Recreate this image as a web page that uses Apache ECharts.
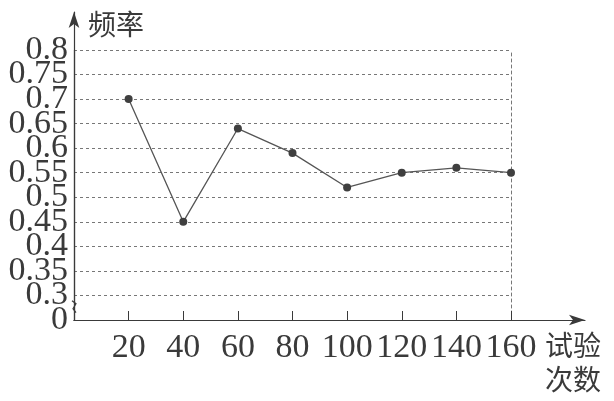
<!DOCTYPE html>
<html>
<head>
<meta charset="utf-8">
<script src="https://cdn.jsdelivr.net/npm/echarts@6/dist/echarts.min.js"></script>
<style>
  html, body { margin: 0; padding: 0; background: #fff; }
  #main { width: 614px; height: 401px; }
</style>
</head>
<body>
<div id="main"></div>
<script>
// 试验次数
const trials = [20, 40, 60, 80, 100, 120, 140, 160]
// 频率
const freqs = [0.7, 0.45, 0.64, 0.59, 0.52, 0.55, 0.56, 0.55]
// 纵轴刻度 (0.25 的位置显示为 0，表示断轴)
const yMin = 0.25
const yMax = 0.8
const yStep = 0.05

const serif = '"Liberation Serif", "DejaVu Serif", serif'
const cjk = '"Noto Sans CJK SC", sans-serif'
const ink = '#3a3a3a'
const gridGrey = '#777'

const yLabel = v => (v < yMin + 0.001 ? '0' : String(+v.toFixed(2)))
const yLabelStyle = {
  color: ink,
  fontFamily: serif,
  fontSize: 34,
  margin: 6,
  formatter: yLabel
}

const chart = echarts.init(document.getElementById('main'))

const option = {
  backgroundColor: '#fff',
  animation: false,
  grid: [
    // 数据区域
    { left: 74, right: 103, top: 50, bottom: 81 },
    // 带箭头的坐标轴
    { left: 74, right: 29, top: 12, bottom: 81 }
  ],
  xAxis: [
    {
      type: 'value',
      gridIndex: 0,
      min: 0,
      max: 160,
      interval: 20,
      axisLine: { show: true, lineStyle: { color: ink, width: 1.2 } },
      axisTick: { show: true, inside: true, length: 9, lineStyle: { color: ink } },
      axisLabel: {
        color: ink,
        fontFamily: serif,
        fontSize: 34,
        margin: 11,
        showMaxLabel: true,
        formatter: v => (v === 0 ? '' : String(v))
      },
      splitLine: { show: false }
    },
    {
      type: 'value',
      gridIndex: 1,
      min: 0,
      max: 1,
      axisLine: {
        show: true,
        symbol: ['none', 'arrow'],
        symbolSize: [8, 16],
        lineStyle: { color: ink, width: 1.2 }
      },
      axisTick: { show: false },
      axisLabel: { show: false },
      splitLine: { show: false },
      name: '试验\n次数',
      nameLocation: 'end',
      nameGap: -40,
      nameTextStyle: {
        color: ink,
        fontFamily: cjk,
        fontSize: 28,
        lineHeight: 34,
        align: 'left',
        verticalAlign: 'top',
        padding: [8, 0, 0, 0]
      }
    }
  ],
  yAxis: [
    {
      // 中间刻度 0.3 ~ 0.75
      type: 'value',
      gridIndex: 0,
      min: yMin,
      max: yMax,
      interval: yStep,
      axisLine: { show: true, lineStyle: { color: ink, width: 1.2 } },
      axisTick: { show: false },
      axisLabel: { ...yLabelStyle, showMinLabel: false, showMaxLabel: false },
      splitLine: {
        show: true,
        lineStyle: { color: gridGrey, type: [3, 3], width: 1 }
      }
    },
    {
      // 160 处的竖虚线
      type: 'value',
      gridIndex: 0,
      position: 'right',
      min: yMin,
      max: yMax,
      interval: yStep,
      axisLine: { show: true, lineStyle: { color: gridGrey, type: [3, 3], width: 1 } },
      axisTick: { show: false },
      axisLabel: { show: false },
      splitLine: { show: false }
    },
    {
      type: 'value',
      gridIndex: 1,
      min: 0,
      max: 1,
      axisLine: {
        show: true,
        symbol: ['none', 'arrow'],
        symbolSize: [8, 16],
        lineStyle: { color: ink, width: 1.2 }
      },
      axisTick: { show: false },
      axisLabel: { show: false },
      splitLine: { show: false },
      name: '频率',
      nameLocation: 'end',
      nameGap: -12,
      nameTextStyle: {
        color: ink,
        fontFamily: cjk,
        fontSize: 28,
        align: 'left',
        verticalAlign: 'middle',
        padding: [0, 0, 0, 14]
      }
    },
    {
      // 首尾刻度 0 和 0.8
      type: 'value',
      gridIndex: 0,
      position: 'left',
      min: yMin,
      max: yMax,
      interval: yMax - yMin,
      axisLine: { show: false },
      axisTick: { show: false },
      axisLabel: { ...yLabelStyle, showMinLabel: true, showMaxLabel: true },
      splitLine: { show: false }
    }
  ],
  series: [
    {
      type: 'line',
      xAxisIndex: 0,
      yAxisIndex: 0,
      data: trials.map((t, i) => [t, freqs[i]]),
      symbol: 'circle',
      symbolSize: 8,
      itemStyle: { color: '#3f3f3f' },
      lineStyle: { color: '#555', width: 1.3 },
      z: 5
    }
  ]
}

chart.setOption(option)

// 断轴标记
const p = chart.convertToPixel({ gridIndex: 0 }, [0, yMin + yStep * 0.5])
chart.setOption({
  graphic: [{
    type: 'polyline',
    shape: { points: [[p[0] - 2, p[1] - 7], [p[0] + 2, p[1] - 4], [p[0] - 1, p[1] + 1], [p[0] + 2, p[1] + 5]] },
    style: { stroke: ink, lineWidth: 1.2, fill: null },
    z: 10
  }]
})
</script>
</body>
</html>
